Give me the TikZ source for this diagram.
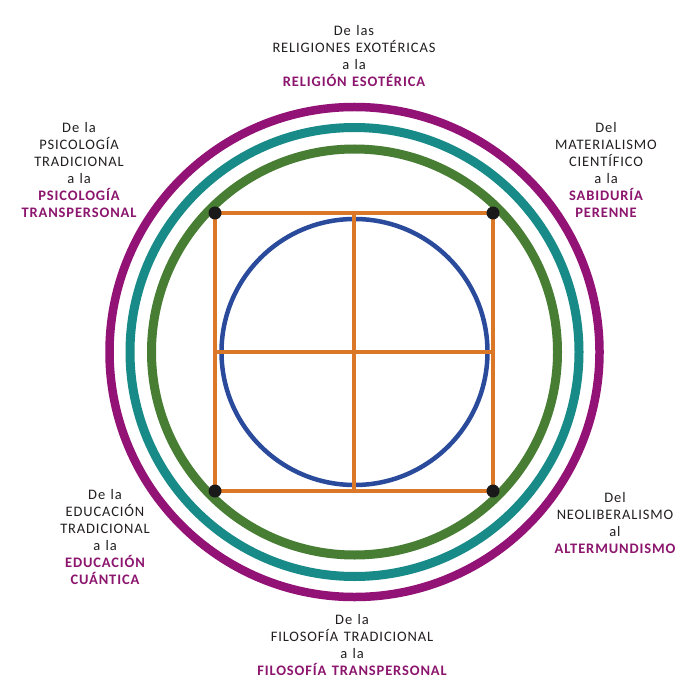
\documentclass[tikz,border=0pt]{standalone}
\usepackage{fontspec}
\setmainfont{Carlito}[LetterSpace=6,WordSpace=1.3]
\definecolor{ringpurple}{RGB}{146,18,118}
\definecolor{ringteal}{RGB}{24,138,135}
\definecolor{ringgreen}{RGB}{72,125,52}
\definecolor{sqorange}{RGB}{218,120,40}
\definecolor{inblue}{RGB}{42,74,155}
\definecolor{txtpurple}{RGB}{140,22,110}
\definecolor{txtdark}{RGB}{35,31,32}
\begin{document}
\begin{tikzpicture}[x=1pt,y=-1pt,
  sq/.style={draw=sqorange,line width=4pt},
  dotnode/.style={circle,fill=black!90,inner sep=0pt,minimum size=13pt},
  lbl/.style={align=center,inner sep=0pt,text=txtdark,font=\fontsize{14.5}{17}\selectfont}
]
\useasboundingbox[fill=white] (0,0) rectangle (700,700);
\coordinate (c) at (354.5,352);
% rings
\draw[ringpurple,line width=8.5pt] (c) circle (245);
\draw[ringteal,line width=9pt] (c) circle (224.5);
\draw[ringgreen,line width=9pt] (c) circle (203);
\draw[inblue,line width=4.5pt] (c) circle (133);
% square corners
\coordinate (tl) at (215,213);
\coordinate (tr) at (493,213);
\coordinate (br) at (493,491);
\coordinate (bl) at (215,491);
\coordinate (tm) at (354,213);
\coordinate (bm) at (354,491);
\coordinate (lm) at (215,352);
\coordinate (rm) at (493,352);
\draw[sq] (tl) -- (tr) -- (br) -- (bl) -- cycle;
\draw[sq] (tm) -- (bm);
\draw[sq] (lm) -- (rm);
\node[dotnode] (dtl) at (tl) {};
\node[dotnode] (dtr) at (tr) {};
\node[dotnode] (dbr) at (br) {};
\node[dotnode] (dbl) at (bl) {};
% labels
\node[lbl] (top) at (354,56) {De las\\RELIGIONES EXOTÉRICAS\\a la\\{\color{txtpurple}\bfseries RELIGIÓN ESOTÉRICA}};
\node[lbl] (tleft) at (79,170) {De la\\PSICOLOGÍA\\TRADICIONAL\\a la\\{\color{txtpurple}\bfseries PSICOLOGÍA}\\{\color{txtpurple}\bfseries TRANSPERSONAL}};
\node[lbl] (tright) at (606,170) {Del\\MATERIALISMO\\CIENTÍFICO\\a la\\{\color{txtpurple}\bfseries SABIDURÍA}\\{\color{txtpurple}\bfseries PERENNE}};
\node[lbl] (bleft) at (105,537) {De la\\EDUCACIÓN\\TRADICIONAL\\a la\\{\color{txtpurple}\bfseries EDUCACIÓN}\\{\color{txtpurple}\bfseries CUÁNTICA}};
\node[lbl] (bright) at (615,523) {Del\\NEOLIBERALISMO\\al\\{\color{txtpurple}\bfseries ALTERMUNDISMO}};
\node[lbl] (bottom) at (352,645) {De la\\FILOSOFÍA TRADICIONAL\\a la\\{\color{txtpurple}\bfseries FILOSOFÍA TRANSPERSONAL}};
\end{tikzpicture}
\end{document}
